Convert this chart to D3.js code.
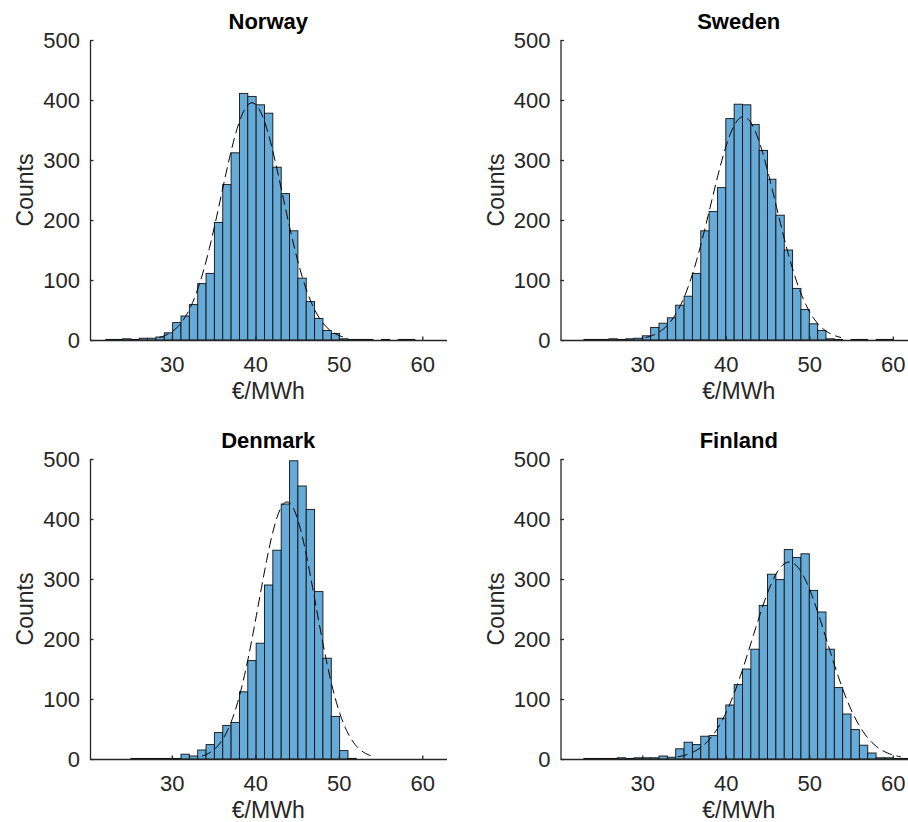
<!DOCTYPE html>
<html>
<head>
<meta charset="utf-8">
<script src="https://cdn.jsdelivr.net/npm/d3@7"></script>
<style>
  body { margin: 0; background: #fff; }
  svg { display: block; font-family: "Liberation Sans", Arial, Helvetica, sans-serif; }
  .tick text { fill: #262626; }
</style>
</head>
<body>
<svg id="chart"></svg>
<script>
// histogram counts per country, 1 €/MWh bins starting at binStart
const countries = ['Norway', 'Sweden', 'Denmark', 'Finland'];
const binStart = [22.1, 23.0, 25.1, 23.0];
const binWidth = 1;
const norwayCounts = [1, 1, 2, 1, 3, 3, 5, 12, 29, 40, 59, 94, 111, 196, 259, 312, 411, 406, 392, 378, 288, 244, 182, 103, 64, 36, 16, 11, 2, 1, 1, 1, 0, 1, 0, 1, 1, 0];
const swedenCounts = [1, 1, 1, 2, 1, 2, 3, 7, 21, 28, 37, 58, 73, 111, 182, 214, 254, 369, 393, 392, 359, 316, 268, 208, 150, 86, 51, 27, 16, 2, 1, 0, 1, 1, 0, 1, 1];
const denmarkCounts = [1, 1, 1, 1, 1, 1, 8, 5, 15, 24, 44, 56, 61, 112, 164, 193, 290, 348, 425, 497, 455, 416, 279, 168, 71, 14, 1];
const finlandCounts = [1, 1, 1, 1, 2, 1, 2, 2, 2, 5, 3, 17, 28, 24, 38, 39, 68, 90, 124, 150, 183, 256, 308, 299, 349, 336, 342, 281, 245, 183, 119, 75, 49, 23, 10, 2, 2, 1, 1];
const allCounts = [norwayCounts, swedenCounts, denmarkCounts, finlandCounts];

// normal fit (mean, std)
const fitMean = [39.6, 42.1, 43.8, 47.6];
const fitSigma = [3.7, 3.9, 3.4, 4.45];

const xDomain = [20.2, 62.9];
const yDomain = [0, 500];
const xTicks = [30, 40, 50, 60];
const yTicks = [0, 100, 200, 300, 400, 500];

const width = 908;
const height = 822;
const plotW = 356.5;
const plotH = 300;
const origins = [[90, 40], [560.5, 40], [90, 459], [560.5, 459]];

const svg = d3.select('#chart')
    .attr('width', width)
    .attr('height', height);

countries.forEach((name, k) => {
    const counts = allCounts[k];
    const [ox, oy] = origins[k];

    const x = d3.scaleLinear().domain(xDomain).range([0, plotW]);
    const y = d3.scaleLinear().domain(yDomain).range([plotH, 0]);

    const g = svg.append('g')
        .attr('transform', `translate(${ox},${oy})`);

    const bins = counts.map((c, i) => ({
        x0: binStart[k] + i * binWidth,
        x1: binStart[k] + (i + 1) * binWidth,
        count: c
    })).filter(d => d.count > 0);

    g.selectAll('rect.bar')
        .data(bins)
        .join('rect')
            .attr('class', 'bar')
            .attr('x', d => x(d.x0))
            .attr('width', d => x(d.x1) - x(d.x0))
            .attr('y', d => y(d.count))
            .attr('height', d => y(0) - y(d.count))
            .attr('fill', '#66aad7')
            .attr('stroke', '#111')
            .attr('stroke-width', 0.9);

    // fitted normal curve over mean +/- 3 sigma, scaled to the histogram area
    const total = d3.sum(counts);
    const mu = fitMean[k];
    const sd = fitSigma[k];
    const xs = d3.range(0, 101).map(i => mu - 3 * sd + i * 6 * sd / 100);
    const curve = xs.map(v => [v, total * binWidth * Math.exp(-0.5 * ((v - mu) / sd) ** 2) / (sd * Math.sqrt(2 * Math.PI))]);

    g.append('path')
        .datum(curve)
        .attr('fill', 'none')
        .attr('stroke', '#000')
        .attr('stroke-width', 1)
        .attr('stroke-dasharray', '10,5')
        .attr('d', d3.line().x(d => x(d[0])).y(d => y(d[1])));

    const xAxis = g.append('g')
        .attr('transform', `translate(0,${plotH})`)
        .call(d3.axisBottom(x).tickValues(xTicks).tickSizeInner(-3.5).tickSizeOuter(0).tickPadding(16));
    const yAxis = g.append('g')
        .call(d3.axisLeft(y).tickValues(yTicks).tickSizeInner(-3.5).tickSizeOuter(0).tickPadding(10));

    [xAxis, yAxis].forEach(a => {
        a.select('.domain').attr('stroke', '#262626').attr('stroke-width', 1.3);
        a.selectAll('.tick line').attr('stroke', '#262626').attr('stroke-width', 1.3);
        a.selectAll('.tick text').attr('font-size', 22).attr('font-family', null);
    });
    xAxis.selectAll('.tick text').attr('dy', '0.71em');

    g.append('text')
        .attr('x', plotW / 2)
        .attr('y', -10.7)
        .attr('text-anchor', 'middle')
        .attr('font-size', 22)
        .attr('font-weight', 'bold')
        .attr('fill', '#000')
        .text(name);

    g.append('text')
        .attr('x', plotW / 2)
        .attr('y', plotH + 58.5)
        .attr('text-anchor', 'middle')
        .attr('font-size', 23)
        .attr('fill', '#262626')
        .text('€/MWh');

    g.append('text')
        .attr('transform', `translate(-56.7,${plotH / 2}) rotate(-90)`)
        .attr('text-anchor', 'middle')
        .attr('font-size', 23)
        .attr('fill', '#262626')
        .text('Counts');
});
</script>
</body>
</html>
